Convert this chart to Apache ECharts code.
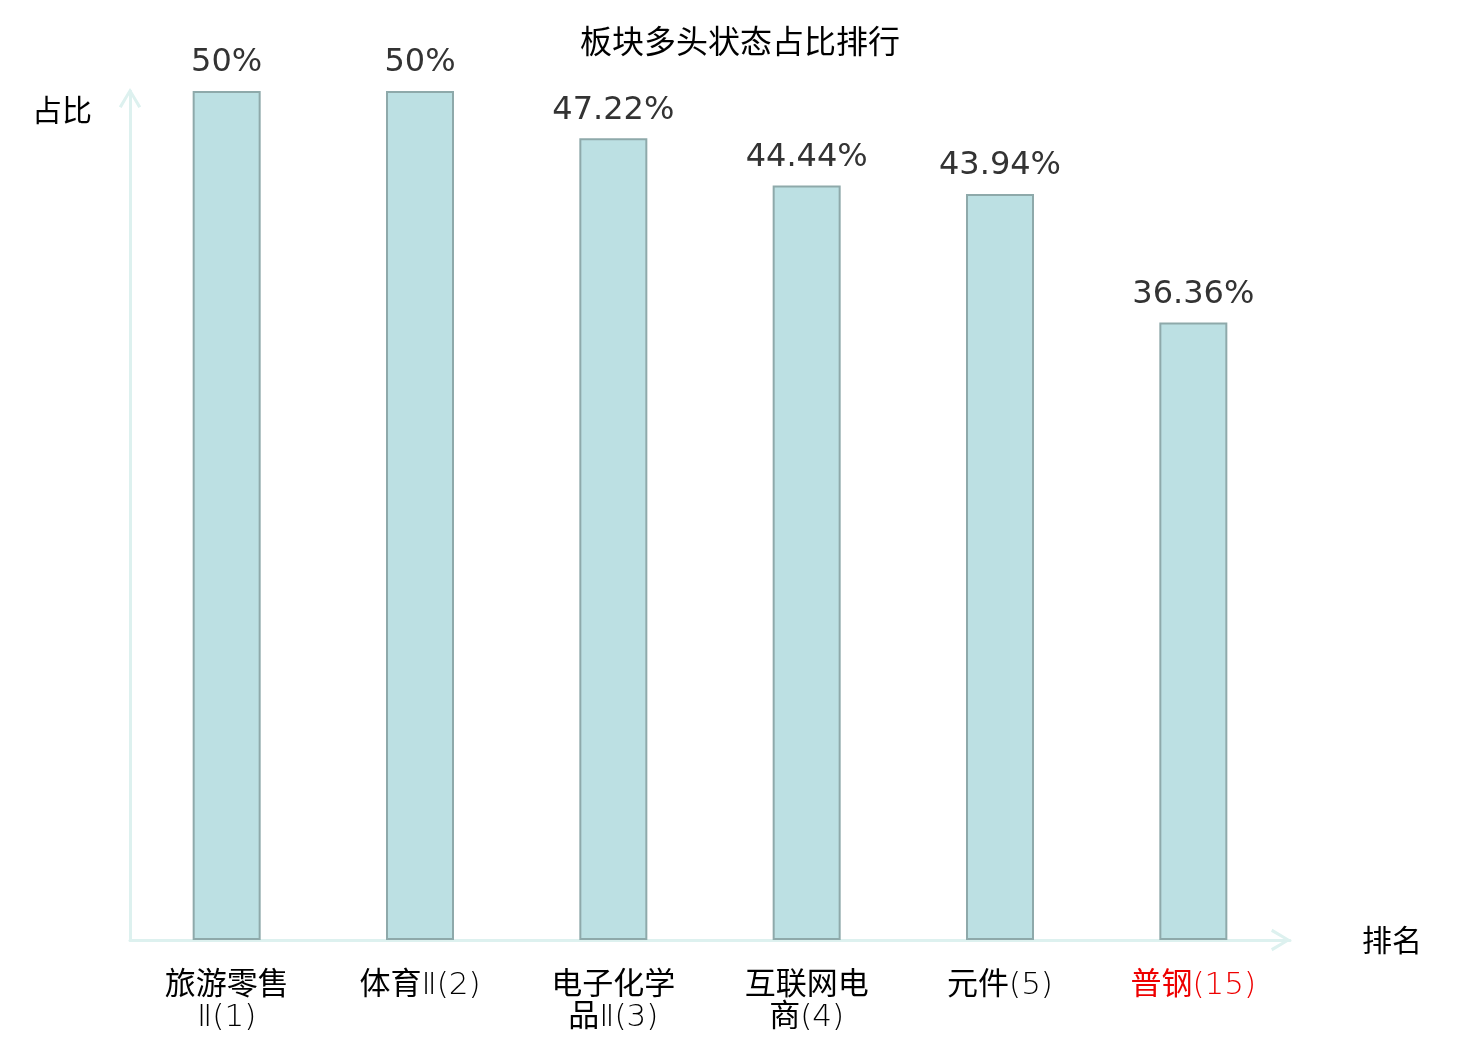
<!DOCTYPE html>
<html>
<head>
<meta charset="utf-8">
<style>html,body{margin:0;padding:0;background:#fff;}#main{width:1480px;height:1040px;}</style>
<script src="https://cdn.jsdelivr.net/npm/echarts@6/dist/echarts.min.js"></script>
</head>
<body>
<div id="main"></div>
<script>
var titleText = '板块多头状态占比排行';
var categories = ['旅游零售Ⅱ(1)', '体育Ⅱ(2)', '电子化学品Ⅱ(3)', '互联网电商(4)', '元件(5)', '普钢(15)'];
var values = [50, 50, 47.22, 44.44, 43.94, 36.36];
var highlightIndex = 5;

var cjk = '"Noto Sans CJK SC", sans-serif';
var lbl = '"DejaVu Sans", "Noto Sans CJK SC", sans-serif';
var chart = echarts.init(document.getElementById('main'));
var chevron = 'path://M0,20 L12,0 L24,20 L21,21.5 L12,6 L3,21.5 Z';

function styleRuns(line, red) {
  return line.replace(/([\u4e00-\u9fff]+)|([^\u4e00-\u9fff]+)/g, function (m, c, l) {
    if (c) return '{' + (red ? 'cr' : 'c') + '|' + c + '}';
    return '{' + (red ? 'lr' : 'l') + '|' + l + '}';
  });
}

chart.setOption({
  backgroundColor: '#fff',
  animation: false,
  title: {
    text: titleText,
    left: 'center',
    top: 20,
    textStyle: { fontSize: 32, fontWeight: 'normal', color: '#000', fontFamily: cjk }
  },
  grid: { left: 130, right: 190, top: 91, bottom: 100 },
  xAxis: {
    type: 'category',
    data: categories,
    name: '排名',
    nameGap: 72,
    nameTextStyle: { fontSize: 30, color: '#000', fontFamily: cjk, padding: [4, 0, 0, 0] },
    axisLine: {
      lineStyle: { color: '#ddf1ef', width: 3 },
      symbol: ['none', chevron],
      symbolSize: [24, 20],
      symbolOffset: [0, -9]
    },
    axisTick: { show: false },
    axisLabel: {
      fontSize: 31,
      lineHeight: 32,
      margin: 30,
      interval: 0,
      fontFamily: lbl,
      formatter: function (v, i) {
        var lines = v.length > 6 ? [v.slice(0, 4), v.slice(4)] : [v];
        return lines.map(function (ln) { return styleRuns(ln, i === highlightIndex); }).join('\n');
      },
      color: '#000',
      rich: {
        c: { fontSize: 31, lineHeight: 32, fontFamily: cjk, fontWeight: 'normal', color: '#000', padding: [0, 0, 8, 0] },
        l: { fontSize: 31, lineHeight: 32, fontFamily: lbl, fontWeight: 200, color: '#000' },
        cr: { fontSize: 31, lineHeight: 32, fontFamily: cjk, fontWeight: 'normal', color: '#ee0000', padding: [0, 0, 8, 0] },
        lr: { fontSize: 31, lineHeight: 32, fontFamily: lbl, fontWeight: 200, color: '#ee0000' }
      }
    }
  },
  yAxis: {
    type: 'value',
    min: 0,
    max: 50,
    name: '占比',
    nameLocation: 'end',
    nameGap: -19,
    nameTextStyle: { fontSize: 30, color: '#000', fontFamily: cjk, align: 'right', verticalAlign: 'middle', padding: [0, 38, 0, 0] },
    axisLine: {
      show: true,
      lineStyle: { color: '#ddf1ef', width: 3 },
      symbol: ['none', chevron],
      symbolSize: [24, 20],
      symbolOffset: [0, -7]
    },
    axisTick: { show: false },
    axisLabel: { show: false },
    splitLine: { show: false }
  },
  series: [{
    type: 'bar',
    data: values,
    barWidth: 68,
    itemStyle: { color: '#bce0e3', borderColor: '#8ea9aa', borderWidth: 2 },
    label: {
      show: true,
      position: 'top',
      distance: 12,
      fontSize: 32,
      fontFamily: '"DejaVu Sans", sans-serif',
      color: '#333',
      formatter: function (p) { return p.value + '%'; }
    }
  }]
});
</script>
</body>
</html>
